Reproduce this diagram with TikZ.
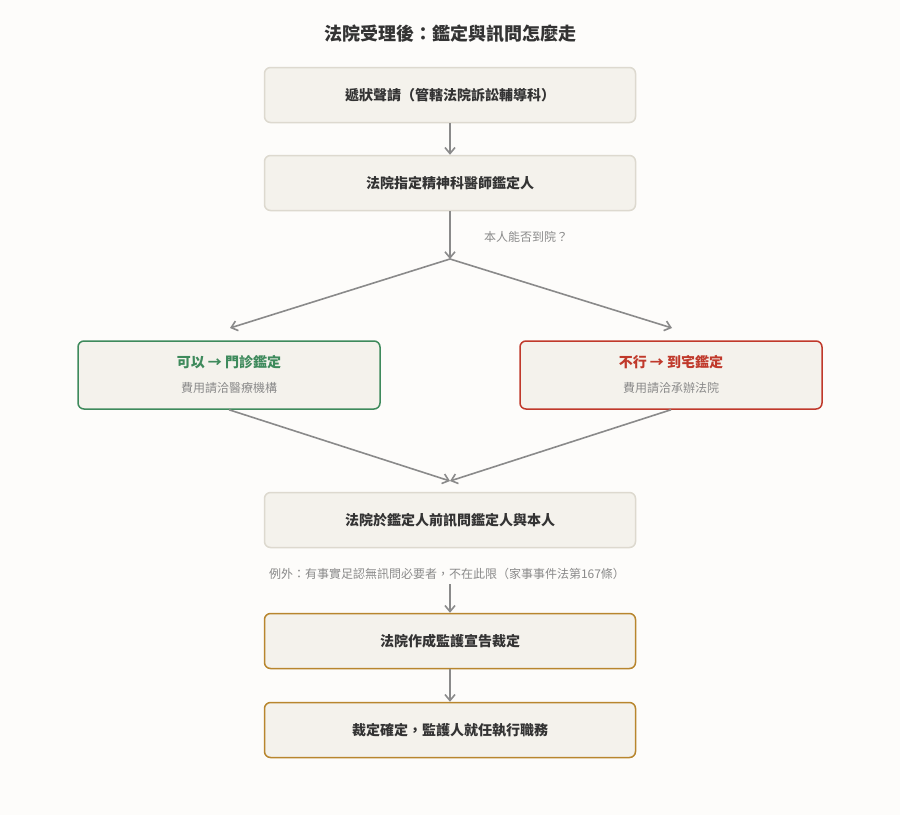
\documentclass[tikz,border=0pt]{standalone}
\usepackage{fontspec}
\usetikzlibrary{arrows.meta}
\setmainfont{Noto Sans CJK TC}
\begin{document}
\begin{tikzpicture}[x=1pt,y=-1pt,
  box/.style={draw=boxline,fill=boxfill,rounded corners=6pt,line width=1.5pt,minimum width=371pt,minimum height=55pt,font=\fontsize{14}{16}\selectfont\bfseries,text=titlec},
  arr/.style={draw=arrc,line width=1.6pt,-{Straight Barb[length=6pt,width=10pt]}},
  ln/.style={draw=arrc,line width=1.6pt}]
\definecolor{bg}{HTML}{FDFCFA}\definecolor{boxfill}{HTML}{F4F2EC}\definecolor{boxline}{HTML}{DDD9CF}
\definecolor{greenc}{HTML}{3E8A5C}\definecolor{redc}{HTML}{C0392B}\definecolor{goldc}{HTML}{B8862E}
\definecolor{arrc}{HTML}{8A8A8A}\definecolor{titlec}{HTML}{333333}\definecolor{greyt}{HTML}{8A8A8A}
\fill[bg] (0,0) rectangle (900,815);
\useasboundingbox (0,0) rectangle (900,815);
\node[font=\fontsize{18}{20}\selectfont\bfseries,text=titlec] (title) at (450,34) {法院受理後：鑑定與訊問怎麼走};
\node[box] (b1) at (450,95) {遞狀聲請（管轄法院訴訟輔導科）};
\node[box] (b2) at (450,183) {法院指定精神科醫師鑑定人};
\coordinate (split) at (450,259);
\node[text=greyt,font=\fontsize{12}{14}\selectfont] (q) at (526,237) {本人能否到院？};
\node[box,draw=greenc,minimum width=302pt,minimum height=68pt,align=center] (g) at (229,375) {};
\node[font=\fontsize{14}{16}\selectfont\bfseries,text=greenc] (gt) at (229,362) {可以 → 門診鑑定};
\node[font=\fontsize{12}{14}\selectfont,text=greyt] (gs) at (229,388) {費用請洽醫療機構};
\node[box,draw=redc,minimum width=302pt,minimum height=68pt] (r) at (671,375) {};
\node[font=\fontsize{14}{16}\selectfont\bfseries,text=redc] (rt) at (671,362) {不行 → 到宅鑑定};
\node[font=\fontsize{12}{14}\selectfont,text=greyt] (rs) at (671,388) {費用請洽承辦法院};
\coordinate (merge) at (450,481);
\node[box] (b3) at (450,520) {法院於鑑定人前訊問鑑定人與本人};
\node[text=greyt,font=\fontsize{12}{14}\selectfont] (ex) at (447,574) {例外：有事實足認無訊問必要者，不在此限（家事事件法第167條）};
\node[box,draw=goldc] (b4) at (450,641) {法院作成監護宣告裁定};
\node[box,draw=goldc] (b5) at (450,730) {裁定確定，監護人就任執行職務};
\draw[arr] (b1) -- (b2);
\draw[arr] (b2) -- (split);
\draw[arr] (split) -- (230,328);
\draw[arr] (split) -- (672,328);
\draw[arr] (g.south) -- (merge);
\draw[arr] (r.south) -- (merge);
\draw[arr] (450,584) -- (b4);
\draw[arr] (b4) -- (b5);
\end{tikzpicture}
\end{document}
